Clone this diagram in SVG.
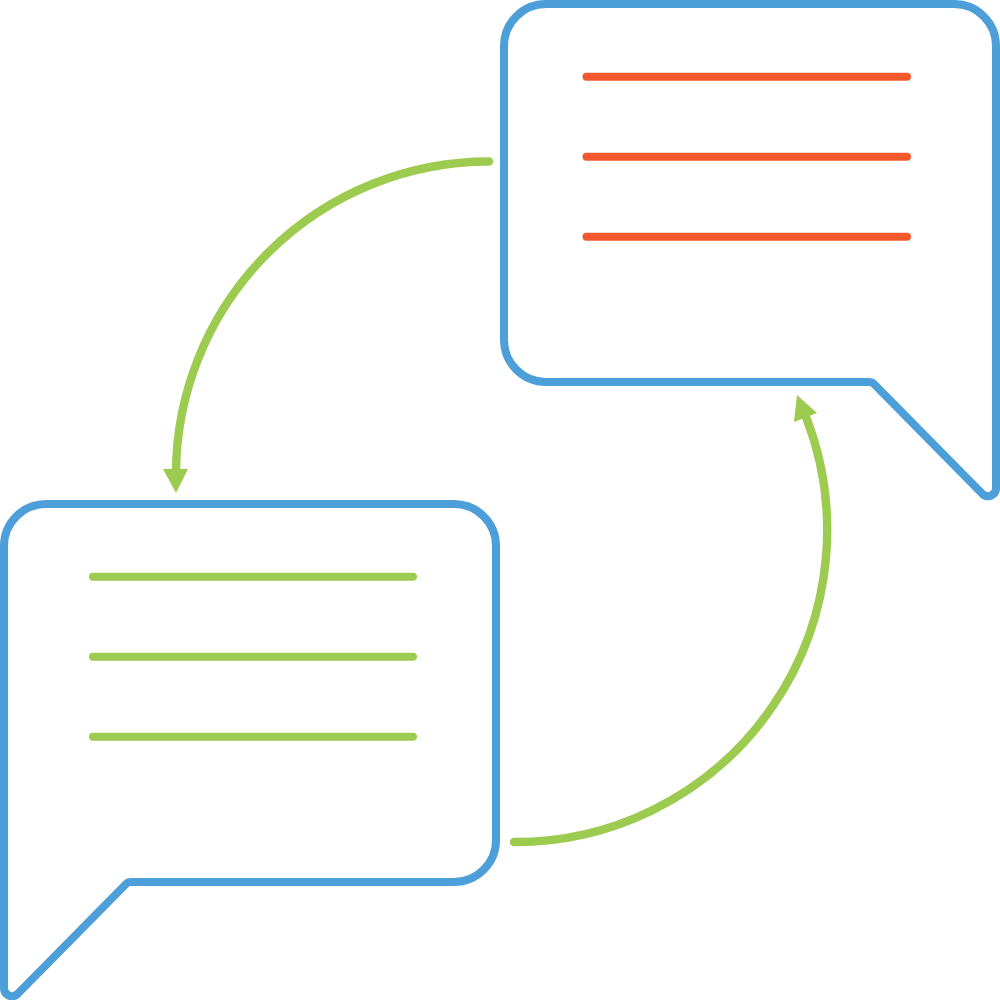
<svg xmlns="http://www.w3.org/2000/svg" width="1000" height="1000" viewBox="0 0 1000 1000">
<style>
.b{fill:none;stroke:#4d9fd9;stroke-width:8;stroke-linejoin:round}
.l{fill:none;stroke-width:8;stroke-linecap:round}
.a{stroke-width:8.400}
.g{stroke:#9dcb4f}
.r{stroke:#f4592e}
.h{fill:#9dcb4f}
</style>
<g id="bubble-top">
<path class="b" d="M546 4H954A42 42 0 0 1 996 46V488A8 8 0 0 1 982.500 494L874 384Q872 382 869 382H546A42 42 0 0 1 504 340V46A42 42 0 0 1 546 4Z"/>
<path class="l r" d="M586.500 76.800H907M586.500 156.800H907M586.500 236.800H907"/>
</g>
<g id="bubble-bottom">
<path class="b" d="M46 504H454A42 42 0 0 1 496 546V840A42 42 0 0 1 454 882H131Q128 882 126 884L17.500 994A8 8 0 0 1 4 988V546A42 42 0 0 1 46 504Z"/>
<path class="l g" d="M93 576.800H413M93 656.800H413M93 736.800H413"/>
</g>
<g id="connectors">
<path class="l g a" d="M489 161.500A313 313 0 0 0 176 472"/>
<polygon class="h" points="163,469 188,469 176,493"/>
<path class="l g a" d="M514 842A312 312 0 0 0 806 417"/>
<polygon class="h" points="794,422 817,413 797,395"/>
</g>
</svg>
